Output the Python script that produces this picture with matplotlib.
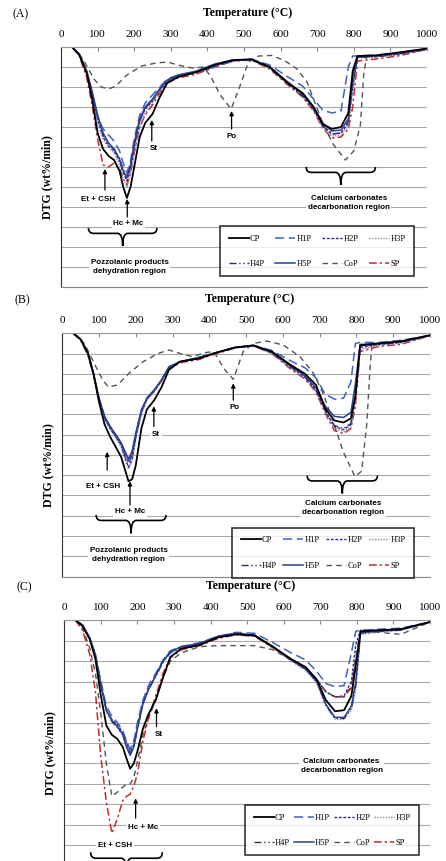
import numpy as np
import matplotlib.pyplot as plt
from matplotlib.path import Path
from matplotlib.patches import PathPatch

# temperature grid (deg C) shared by most curves
temp = [30, 50, 70, 85, 100, 115, 130, 145, 160, 170, 180, 190, 200, 215, 230, 250,
        270, 290, 320, 370, 420, 470, 520, 570, 620, 660, 690, 715, 740, 765, 785,
        797, 810, 860, 920, 1000]

# ---- panel A (depth below top line, grid units) ----
a_cp = [0, 0.4, 1.3, 2.6, 4.3, 5.1, 5.45, 5.65, 6.2, 7.0, 7.55, 7.0, 6.0, 4.5, 3.8, 3.35,
        2.5, 1.8, 1.5, 1.25, 0.9, 0.65, 0.62, 1.0, 1.8, 2.3, 3.0, 3.85, 4.1, 4.0, 3.3,
        1.2, 0.45, 0.42, 0.28, 0.08]
a_h1p = [0, 0.35, 1.2, 2.3, 3.5, 4.1, 4.4, 4.7, 5.2, 5.8, 6.3, 5.7, 4.6, 3.4, 2.8, 2.4,
         2.0, 1.6, 1.4, 1.25, 1.0, 0.7, 0.6, 0.9, 1.5, 1.95, 2.6, 3.15, 3.3, 3.2, 1.0,
         0.45, 0.45, 0.4, 0.3, 0.08]
a_h2p = [0, 0.35, 1.25, 2.4, 3.6, 4.5, 4.95, 5.2, 5.7, 6.3, 6.7, 6.1, 5.0, 3.7, 3.1, 2.7,
         2.15, 1.7, 1.45, 1.25, 0.9, 0.68, 0.62, 1.0, 1.8, 2.4, 3.1, 3.9, 4.35, 4.3, 3.8,
         2.0, 0.5, 0.45, 0.35, 0.1]
a_h3p = [0, 0.38, 1.3, 2.5, 3.8, 4.6, 5.0, 5.3, 5.9, 6.6, 7.0, 6.4, 5.3, 4.0, 3.3, 2.8,
         2.2, 1.7, 1.45, 1.25, 0.9, 0.66, 0.62, 1.05, 1.85, 2.45, 3.15, 4.0, 4.45, 4.4, 3.9,
         2.2, 0.55, 0.5, 0.38, 0.1]
a_h4p = [0, 0.35, 1.2, 2.3, 3.5, 4.4, 4.85, 5.1, 5.6, 6.1, 6.5, 5.9, 4.9, 3.7, 3.05, 2.65,
         2.1, 1.65, 1.45, 1.3, 0.95, 0.7, 0.62, 1.05, 1.85, 2.45, 3.1, 3.95, 4.35, 4.3, 3.7,
         1.8, 0.5, 0.5, 0.35, 0.1]
a_h5p = [0, 0.35, 1.2, 2.2, 3.4, 4.3, 4.8, 5.1, 5.6, 6.2, 6.55, 5.9, 4.8, 3.6, 3.0, 2.6,
         2.1, 1.65, 1.4, 1.2, 0.85, 0.65, 0.62, 1.0, 1.75, 2.35, 3.0, 3.8, 4.2, 4.15, 3.6,
         1.5, 0.5, 0.45, 0.3, 0.08]
a_sp = [0, 0.45, 1.5, 2.9, 4.6, 5.9, 6.0, 5.8, 6.1, 6.6, 6.9, 6.3, 5.3, 4.0, 3.4, 2.9,
        2.3, 1.8, 1.55, 1.35, 1.0, 0.7, 0.65, 1.1, 1.9, 2.5, 3.2, 4.05, 4.55, 4.5, 4.1,
        3.0, 0.7, 0.6, 0.45, 0.12]
a_cop_temp = [30, 60, 90, 110, 130, 150, 180, 220, 260, 290, 330, 360, 390, 410, 435, 465,
              490, 512, 540, 575, 610, 645, 672, 690, 717, 745, 777, 800, 818, 827, 835,
              900, 950, 1000]
a_cop = [0, 0.6, 1.6, 2.0, 2.1, 1.95, 1.4, 0.95, 0.8, 0.75, 0.95, 1.05, 1.0, 1.5, 2.4, 3.1,
         1.9, 0.75, 0.45, 0.42, 0.67, 1.1, 1.75, 2.6, 3.9, 4.9, 5.65, 5.2, 3.9, 1.4, 0.45,
         0.4, 0.3, 0.1]

# ---- panel B ----
b_cp = [0, 0.3, 1.0, 2.0, 3.4, 4.5, 5.1, 5.6, 6.1, 6.7, 7.3, 7.2, 6.5, 4.7, 3.75, 3.3,
        2.65, 1.8, 1.4, 1.25, 0.95, 0.7, 0.6, 0.9, 1.55, 2.0, 2.55, 3.7, 4.3, 4.4, 4.2,
        3.1, 0.6, 0.5, 0.4, 0.1]
b_h1p = [0, 0.3, 1.0, 2.0, 3.2, 4.1, 4.6, 5.0, 5.4, 5.9, 6.3, 5.9, 5.0, 3.8, 3.2, 2.8,
         2.3, 1.7, 1.4, 1.2, 0.95, 0.7, 0.6, 0.85, 1.35, 1.7, 2.2, 3.0, 3.25, 3.2, 2.4,
         0.5, 0.45, 0.45, 0.35, 0.1]
b_h2p = [0, 0.3, 1.0, 2.05, 3.3, 4.2, 4.7, 5.1, 5.5, 6.1, 6.6, 6.2, 5.1, 3.9, 3.25, 2.85,
         2.3, 1.7, 1.4, 1.25, 0.95, 0.7, 0.6, 0.95, 1.65, 2.15, 2.8, 3.8, 4.6, 4.75, 4.5,
         3.2, 0.7, 0.55, 0.45, 0.1]
b_h3p = [0, 0.3, 1.0, 2.05, 3.3, 4.2, 4.75, 5.15, 5.6, 6.2, 6.7, 6.3, 5.2, 3.95, 3.3, 2.9,
         2.3, 1.7, 1.4, 1.25, 0.95, 0.7, 0.62, 1.0, 1.7, 2.2, 2.85, 3.9, 4.7, 4.85, 4.6,
         3.3, 0.8, 0.6, 0.5, 0.12]
b_h4p = [0, 0.3, 1.0, 2.0, 3.25, 4.15, 4.65, 5.05, 5.5, 6.0, 6.4, 6.0, 5.0, 3.85, 3.2, 2.8,
         2.3, 1.7, 1.4, 1.2, 0.95, 0.7, 0.6, 0.95, 1.65, 2.15, 2.8, 3.8, 4.55, 4.7, 4.45,
         3.0, 0.6, 0.55, 0.45, 0.1]
b_h5p = [0, 0.3, 1.0, 2.0, 3.2, 4.1, 4.6, 5.0, 5.4, 5.8, 6.2, 5.8, 4.9, 3.8, 3.2, 2.8,
         2.3, 1.65, 1.4, 1.2, 0.95, 0.7, 0.6, 0.95, 1.6, 2.1, 2.7, 3.6, 4.1, 4.15, 3.9,
         2.5, 0.55, 0.5, 0.4, 0.1]
b_sp = [0, 0.35, 1.1, 2.1, 3.3, 4.15, 4.6, 5.0, 5.45, 5.95, 6.3, 6.0, 5.1, 3.9, 3.25, 2.85,
        2.35, 1.75, 1.45, 1.3, 1.0, 0.72, 0.62, 1.0, 1.75, 2.25, 2.9, 3.95, 4.8, 4.95, 4.7,
        3.6, 0.9, 0.65, 0.55, 0.12]
b_cop_temp = [30, 60, 90, 110, 125, 150, 180, 220, 260, 290, 330, 355, 390, 412, 438, 465,
              492, 520, 556, 601, 646, 683, 710, 737, 764, 796, 814, 828, 837, 842, 900,
              950, 1000]
b_cop = [0, 0.5, 1.6, 2.3, 2.65, 2.55, 2.0, 1.4, 1.0, 0.82, 1.05, 1.15, 0.95, 0.9, 1.7,
         2.27, 0.9, 0.5, 0.38, 0.58, 1.15, 1.97, 3.0, 4.36, 5.84, 7.07, 6.8, 4.5, 1.7, 0.55,
         0.45, 0.35, 0.1]

# ---- panel C ----
c_cp = [0, 0.3, 0.95, 1.9, 3.7, 5.15, 5.6, 5.8, 6.2, 6.75, 7.25, 7.0, 6.4, 5.3, 4.6, 3.9,
        2.8, 1.8, 1.4, 1.22, 0.85, 0.7, 0.75, 1.3, 1.9, 2.3, 2.9, 3.9, 4.45, 4.4, 3.7,
        2.2, 0.55, 0.5, 0.45, 0.1]
c_h1p = [0, 0.25, 0.9, 1.7, 3.0, 4.2, 4.7, 5.0, 5.4, 5.9, 6.3, 5.9, 5.0, 3.9, 3.2, 2.6,
         1.95, 1.5, 1.3, 1.1, 0.8, 0.6, 0.65, 1.1, 1.6, 1.95, 2.5, 3.1, 3.25, 3.2, 1.6,
         0.55, 0.5, 0.45, 0.4, 0.1]
c_h2p = [0, 0.25, 0.9, 1.75, 3.15, 4.4, 4.85, 5.1, 5.5, 6.0, 6.4, 6.1, 5.2, 4.0, 3.35, 2.7,
         2.0, 1.55, 1.3, 1.15, 0.8, 0.65, 0.75, 1.3, 1.95, 2.35, 2.9, 3.5, 3.75, 3.7, 3.0,
         1.2, 0.5, 0.5, 0.45, 0.1]
c_h3p = [0, 0.25, 0.9, 1.75, 3.2, 4.45, 4.9, 5.15, 5.5, 5.95, 6.3, 6.0, 5.2, 4.0, 3.4, 2.75,
         2.05, 1.6, 1.35, 1.2, 0.85, 0.7, 0.8, 1.35, 2.0, 2.45, 3.05, 4.2, 4.85, 4.85, 4.4,
         3.4, 0.7, 0.6, 0.5, 0.1]
c_h4p = [0, 0.25, 0.9, 1.75, 3.2, 4.45, 4.95, 5.25, 5.6, 6.1, 6.5, 6.15, 5.3, 4.1, 3.4, 2.75,
         2.05, 1.6, 1.35, 1.15, 0.8, 0.65, 0.75, 1.3, 1.95, 2.4, 3.0, 4.15, 4.8, 4.8, 4.3,
         3.2, 0.65, 0.55, 0.5, 0.1]
c_h5p = [0, 0.25, 0.9, 1.7, 3.1, 4.4, 4.9, 5.2, 5.6, 6.2, 6.6, 6.2, 5.3, 4.1, 3.4, 2.7,
         2.0, 1.55, 1.3, 1.15, 0.8, 0.65, 0.75, 1.3, 1.95, 2.4, 3.0, 4.1, 4.75, 4.75, 4.2,
         3.0, 0.6, 0.55, 0.45, 0.1]
c_sp = [0, 0.5, 1.7, 3.5, 6.7, 8.9, 10.4, 9.7, 8.8, 8.6, 8.5, 8.1, 7.5, 5.9, 4.8, 3.7,
        2.6, 1.85, 1.45, 1.25, 0.9, 0.72, 0.8, 1.35, 1.95, 2.35, 2.9, 3.5, 3.75, 3.75, 3.3,
        2.0, 0.6, 0.55, 0.45, 0.1]
c_cop = [0, 0.4, 1.4, 2.6, 4.6, 7.0, 8.6, 8.4, 8.15, 8.0, 8.0, 7.7, 6.9, 5.6, 4.8, 3.9,
         2.8, 2.0, 1.6, 1.3, 1.25, 1.25, 1.25, 1.45, 1.95, 2.35, 2.9, 3.5, 3.75, 3.75, 3.2,
         1.8, 0.55, 0.6, 0.7, 0.1]

names = ["CP", "H1P", "H2P", "H3P", "H4P", "H5P", "CoP", "SP"]
styles = {
    "CP":  dict(color="black", ls="-", lw=1.3),
    "H1P": dict(color="#3d62c4", ls=(0, (6, 3)), lw=1.1),
    "H2P": dict(color="#2b2b9c", ls=(0, (2, 1.2)), lw=1.0),
    "H3P": dict(color="#8c8ca4", ls=(0, (1, 1)), lw=1.0),
    "H4P": dict(color="#24325f", ls=(0, (5, 2, 1, 2, 1, 2)), lw=1.0),
    "H5P": dict(color="#2b3e90", ls="-", lw=1.1),
    "CoP": dict(color="#4d5a4d", ls=(0, (4, 3)), lw=1.0),
    "SP":  dict(color="#c42a2a", ls=(0, (5, 2, 1.5, 2)), lw=1.1),
}
draw_order = ["CoP", "SP", "H3P", "H4P", "H2P", "H1P", "H5P", "CP"]

serif = "Liberation Serif"
sans = "Liberation Sans"

fig = plt.figure(figsize=(4.46, 8.61), dpi=100)


def setup(ax, letter, title_x):
    ax.set_xlim(0, 1000)
    ax.set_ylim(12, 0)
    ax.set_yticks(range(13))
    ax.yaxis.grid(True, color="#a9a9a9", lw=0.8)
    ax.set_axisbelow(True)
    ax.tick_params(axis="y", left=False, labelleft=False)
    ax.xaxis.tick_top()
    ax.set_xticks(range(0, 1001, 100))
    ax.tick_params(axis="x", direction="in", length=3, color="#888888", pad=6,
                   labelsize=8)
    for lab in ax.get_xticklabels():
        lab.set_family(serif)
    ax.spines["right"].set_visible(False)
    ax.spines["left"].set_color("#333333")
    ax.spines["top"].set_color("#999999")
    ax.spines["bottom"].set_color("#888888")
    ax.text(title_x, 1.14, "Temperature (°C)", transform=ax.transAxes, ha="center",
            va="center", family=serif, weight="bold", fontsize=8.5)
    ax.text(-0.038, 0.46, "DTG (wt%/min)", transform=ax.transAxes, rotation=90,
            ha="center", va="center", family=serif, weight="bold", fontsize=8.5)
    ax.text(-0.11, 1.135, letter, transform=ax.transAxes, ha="center", va="center",
            family=serif, fontsize=8.5)


def draw_curves(ax, data, cop_t):
    handles = {}
    for n in draw_order:
        t = cop_t if n == "CoP" else temp
        line, = ax.plot(t, data[n], label=n, **styles[n])
        handles[n] = line
    return handles


def label(ax, x, y, s):
    ax.text(x, y, s, ha="center", va="center", family=sans, weight="bold",
            fontsize=5.8, linespacing=1.35,
            bbox=dict(facecolor="white", edgecolor="none", pad=1.2))


def arrow(ax, x, y0, y1):
    ax.annotate("", xy=(x, y1), xytext=(x, y0),
                arrowprops=dict(arrowstyle="-|>", color="black", lw=0.9,
                                mutation_scale=6, shrinkA=0, shrinkB=0))


def brace(ax, x0, x1, ytop, ytip):
    ybar = ytop + 0.3 * (ytip - ytop)
    xc = (x0 + x1) / 2
    r = 14
    verts = [(x0, ytop), (x0, ybar), (x0 + r, ybar), (xc - r, ybar), (xc, ybar),
             (xc, ytip), (xc, ybar), (xc + r, ybar), (x1 - r, ybar), (x1, ybar),
             (x1, ytop)]
    codes = [Path.MOVETO, Path.CURVE3, Path.CURVE3, Path.LINETO, Path.CURVE3,
             Path.CURVE3, Path.CURVE3, Path.CURVE3, Path.LINETO, Path.CURVE3,
             Path.CURVE3]
    ax.add_patch(PathPatch(Path(verts, codes), fill=False, lw=1.2,
                           edgecolor="black"))


def legend(ax, box):
    h = draw_curves.last
    order = ["CP", "H4P", "H1P", "H5P", "H2P", "CoP", "H3P", "SP"]
    leg = ax.legend([h[n] for n in order], order, loc="upper left",
                    bbox_to_anchor=box, mode="expand", ncol=4, frameon=True,
                    fancybox=False, handlelength=2.4, handletextpad=0.15,
                    borderpad=1.0, labelspacing=2.1, columnspacing=0.8,
                    prop=dict(family=serif, size=6))
    leg.get_frame().set_edgecolor("black")
    leg.get_frame().set_linewidth(1.2)


# ---------------- (A) ----------------
axA = fig.add_axes([0.1368, 0.6667, 0.8206, 0.2787])
setup(axA, "(A)", 0.51)
dataA = dict(CP=a_cp, H1P=a_h1p, H2P=a_h2p, H3P=a_h3p, H4P=a_h4p, H5P=a_h5p,
             CoP=a_cop, SP=a_sp)
draw_curves.last = draw_curves(axA, dataA, a_cop_temp)
arrow(axA, 120, 7.15, 6.1)
label(axA, 101, 7.65, "Et + CSH")
arrow(axA, 181, 8.5, 7.6)
label(axA, 184, 8.85, "Hc + Mc")
arrow(axA, 248, 4.7, 3.65)
label(axA, 254, 5.1, "St")
arrow(axA, 466, 4.1, 3.2)
label(axA, 466, 4.5, "Po")
brace(axA, 75, 262, 9.05, 9.95)
label(axA, 187, 11.0, "Pozzolanic products\ndehydration region")
brace(axA, 670, 859, 6.0, 6.9)
label(axA, 786, 7.8, "Calcium carbonates\ndecarbonation region")
legend(axA, (0.4235, 0.0375, 0.552, 0.233))

# ---------------- (B) ----------------
axB = fig.add_axes([0.1397, 0.3304, 0.8244, 0.2825])
setup(axB, "(B)", 0.51)
dataB = dict(CP=b_cp, H1P=b_h1p, H2P=b_h2p, H3P=b_h3p, H4P=b_h4p, H5P=b_h5p,
             CoP=b_cop, SP=b_sp)
draw_curves.last = draw_curves(axB, dataB, b_cop_temp)
arrow(axB, 122, 6.75, 5.85)
label(axB, 111, 7.57, "Et + CSH")
arrow(axB, 184, 8.47, 7.3)
label(axB, 184, 8.8, "Hc + Mc")
arrow(axB, 249, 4.6, 3.6)
label(axB, 255, 4.97, "St")
arrow(axB, 465, 3.3, 2.47)
label(axB, 468, 3.67, "Po")
brace(axB, 92, 282, 8.96, 9.87)
label(axB, 180, 10.94, "Pozzolanic products\ndehydration region")
brace(axB, 666, 857, 7.02, 7.9)
label(axB, 764, 8.63, "Calcium carbonates\ndecarbonation region")
legend(axB, (0.4508, 0.0, 0.5166, 0.217))

# ---------------- (C) ----------------
axC = fig.add_axes([0.1442, -0.0058, 0.8200, 0.2857])
setup(axC, "(C)", 0.51)
dataC = dict(CP=c_cp, H1P=c_h1p, H2P=c_h2p, H3P=c_h3p, H4P=c_h4p, H5P=c_h5p,
             CoP=c_cop, SP=c_sp)
draw_curves.last = draw_curves(axC, dataC, temp)
arrow(axC, 252, 5.2, 4.3)
label(axC, 259, 5.57, "St")
arrow(axC, 195, 9.66, 8.7)
label(axC, 216, 10.1, "Hc + Mc")
label(axC, 139, 11.0, "Et + CSH")
brace(axC, 72, 268, 11.33, 12.3)
label(axC, 758, 7.14, "Calcium carbonates\ndecarbonation region")
legend(axC, (0.4832, 0.066, 0.4980, 0.198))

fig.savefig("out.png", dpi=100)
